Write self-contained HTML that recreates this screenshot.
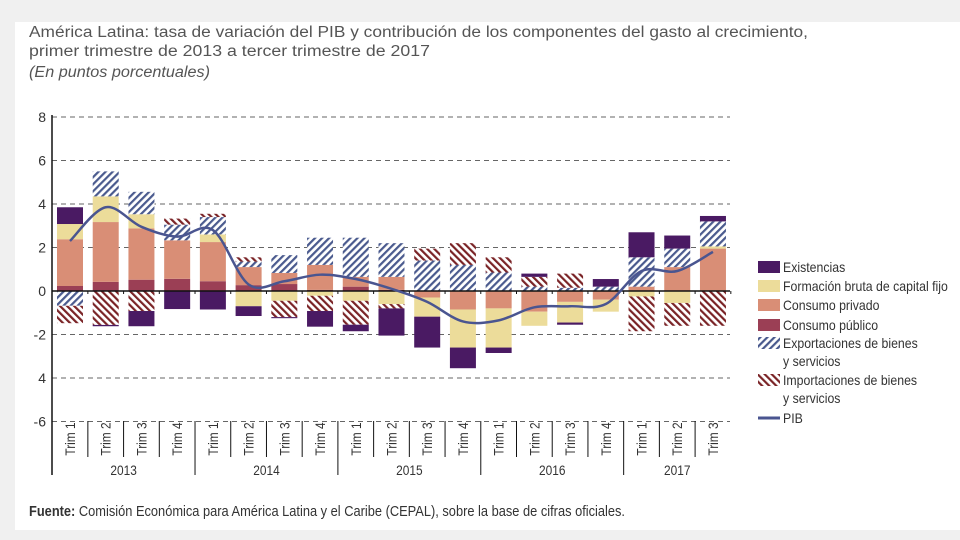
<!DOCTYPE html>
<html><head><meta charset="utf-8"><style>
body{margin:0;background:#f0f0f0;}
#wrap{position:absolute;left:0;top:0;width:960px;height:540px;background:#f0f0f0;overflow:hidden}
#panel{position:absolute;left:15px;top:22px;width:945px;height:508px;background:#fff}
svg text{font-family:"Liberation Sans",sans-serif;fill:#333}
</style></head><body>
<div id="wrap">
<div id="panel"></div>
<svg id="chart" width="960" height="540" style="position:absolute;left:0;top:0">
<defs>
<pattern id="hexp" width="5" height="5" patternUnits="userSpaceOnUse" patternTransform="rotate(45)"><rect width="5" height="5" fill="#fff"/><rect width="2.2" height="5" fill="#4a5a8e"/></pattern>
<pattern id="himp" width="5" height="5" patternUnits="userSpaceOnUse" patternTransform="rotate(-45)"><rect width="5" height="5" fill="#fff"/><rect width="2.2" height="5" fill="#7a2326"/></pattern>
</defs>
<text x="29" y="37" style="font-size:15.5px;fill:#555" textLength="779" lengthAdjust="spacingAndGlyphs">América Latina: tasa de variación del PIB y contribución de los componentes del gasto al crecimiento,</text>
<text x="29" y="56" style="font-size:15.5px;fill:#555" textLength="401" lengthAdjust="spacingAndGlyphs">primer trimestre de 2013 a tercer trimestre de 2017</text>
<text x="29" y="77" style="font-size:15.5px;fill:#555;font-style:italic" textLength="181" lengthAdjust="spacingAndGlyphs">(En puntos porcentuales)</text>
<g id="grid"></g><g id="bars"></g><g id="axes"></g><g id="line"></g><g id="legend"></g>
<text x="29" y="516" style="font-size:14.5px" textLength="596" lengthAdjust="spacingAndGlyphs"><tspan font-weight="bold">Fuente:</tspan> Comisión Económica para América Latina y el Caribe (CEPAL), sobre la base de cifras oficiales.</text>
</svg>
</div>
<script>
const quarters=["Trim 1","Trim 2","Trim 3","Trim 4","Trim 1","Trim 2","Trim 3","Trim 4","Trim 1","Trim 2","Trim 3","Trim 4","Trim 1","Trim 2","Trim 3","Trim 4","Trim 1","Trim 2","Trim 3"];
const years=["2013","2014","2015","2016","2017"];
const yTicks=[8,6,4,2,0,-2,-4,-6];
const yTickLabels=["8","6","4","2","0","-2","4","-6"];
const publico=[0.23,0.42,0.52,0.56,0.45,0.27,0.32,0.05,0.2,0.05,0,0,0,0,0,0,0,0,0];
const privado=[2.15,2.75,2.36,1.77,1.8,0.83,0.51,1.15,0.45,0.6,-0.3,-0.85,-0.8,-0.95,-0.5,-0.4,0.2,1.1,1.95];
const fbcf=[0.7,1.18,0.65,0,0.35,-0.7,-0.45,-0.22,-0.45,-0.6,-0.88,-1.75,-1.8,-0.65,-0.95,-0.55,-0.25,-0.55,0.1];
const exportaciones=[-0.68,1.15,1.03,0.72,0.8,0.25,0.82,1.25,1.8,1.55,1.4,1.2,0.85,0.2,0.15,0.2,1.35,0.85,1.15];
const importaciones=[-0.8,-1.56,-0.92,0.28,0.15,0.2,-0.75,-0.7,-1.1,-0.2,0.55,1.0,0.7,0.45,0.65,0,-1.6,-1.05,-1.6];
const existencias=[0.77,-0.06,-0.7,-0.83,-0.85,-0.45,-0.05,-0.72,-0.3,-1.25,-1.42,-0.95,-0.25,0.15,-0.1,0.35,1.15,0.6,0.25];
const pib=[2.3,3.85,2.95,2.5,2.8,0.3,0.45,0.75,0.55,0.1,-0.5,-1.4,-1.35,-0.75,-0.7,-0.6,0.92,0.92,1.8];

const NS="http://www.w3.org/2000/svg";
const X0=70,DX=35.72,BW=26,AX=52,GX2=730;
const y=v=>291-v*21.75;
const x=i=>X0+i*DX;
function mk(tag,attrs,parent){const e=document.createElementNS(NS,tag);for(const k in attrs)e.setAttribute(k,attrs[k]);parent.appendChild(e);return e;}
const grid=document.getElementById('grid'),bars=document.getElementById('bars'),axes=document.getElementById('axes'),lineG=document.getElementById('line'),leg=document.getElementById('legend');
yTicks.forEach((t,i)=>{
  if(t!==0){const g=mk('line',{x1:AX,x2:GX2,y1:y(t),y2:y(t),stroke:'#666','stroke-width':1,'stroke-dasharray':'5,4'},grid);
  
  }
  const tx=mk('text',{x:46,y:y(t)+5,'text-anchor':'end','font-size':14},axes);tx.textContent=yTickLabels[i];
  
  
});
const series=[["consumo-publico",publico,"#9b3f55"],["consumo-privado",privado,"#d98e76"],["fbcf",fbcf,"#ecdc9a"],["exportaciones",exportaciones,"url(#hexp)"],["importaciones",importaciones,"url(#himp)"],["existencias",existencias,"#4a1a63"]];
quarters.forEach((q,i)=>{
  let pos=0,neg=0;
  series.forEach(([nm,arr,col])=>{
    const v=arr[i];if(!v)return;
    let a,b;
    if(v>0){a=pos;b=pos+v;pos=b;}else{a=neg;b=neg+v;neg=b;}
    const r=mk('rect',{x:x(i)-BW/2,y:Math.min(y(a),y(b)),width:BW,height:Math.abs(y(a)-y(b)),fill:col},bars);
    
    
  });
  const tl=mk('text',{x:0,y:0,'font-size':14,'text-anchor':'middle',transform:`translate(${x(i)+5},${439}) rotate(-90) scale(0.85,1)`},axes);tl.textContent=q;
  
  
  if(i>0){const yearSep=(i%4===0);
    const s=mk('line',{x1:x(i)-DX/2,x2:x(i)-DX/2,y1:421,y2:yearSep?475:457,stroke:'#111','stroke-width':1},axes);
    
    }
  const tk=mk('line',{x1:x(i)+DX/2,x2:x(i)+DX/2,y1:291,y2:294,stroke:'#111'},axes);
  
  
});
years.forEach((yr,k)=>{
  const n=Math.min(4,quarters.length-k*4);
  const cx=(x(k*4)+x(k*4+n-1))/2;
  const t=mk('text',{x:0,y:0,'text-anchor':'middle','font-size':14,transform:`translate(${cx},475) scale(0.85,1)`},axes);t.textContent=yr;
  
  
});
const ya=mk('line',{x1:AX,x2:AX,y1:115,y2:475,stroke:'#111','stroke-width':1.5},axes);


const za=mk('line',{x1:AX,x2:GX2,y1:y(0),y2:y(0),stroke:'#111','stroke-width':1.5},axes);


const P=pib.map((v,i)=>[x(i),y(v)]);
let d=`M${P[0][0]},${P[0][1]}`;
for(let i=0;i<P.length-1;i++){
  const p0=P[Math.max(0,i-1)],p1=P[i],p2=P[i+1],p3=P[Math.min(P.length-1,i+2)];
  const c1=[p1[0]+(p2[0]-p0[0])/6,p1[1]+(p2[1]-p0[1])/6],c2=[p2[0]-(p3[0]-p1[0])/6,p2[1]-(p3[1]-p1[1])/6];
  d+=` C${c1[0]},${c1[1]} ${c2[0]},${c2[1]} ${p2[0]},${p2[1]}`;
}
const pl=mk('path',{d:d,fill:'none',stroke:'#4a5590','stroke-width':2.5},lineG);


const legItems=[["Existencias","#4a1a63",267,null],["Formación bruta de capital fijo","#ecdc9a",286,null],["Consumo privado","#d98e76",305,null],["Consumo público","#9b3f55",325,null],["Exportaciones de bienes","url(#hexp)",343,"y servicios"],["Importaciones de bienes","url(#himp)",380,"y servicios"]];
legItems.forEach(([lab,col,cy,l2])=>{
  const r=mk('rect',{x:758,y:cy-6,width:22,height:12,fill:col},leg);
  
  
  const t=mk('text',{x:0,y:0,'font-size':14,transform:`translate(783,${cy+5}) scale(0.88,1)`},leg);t.textContent=lab;
  
  
  if(l2){const t2=mk('text',{x:0,y:0,'font-size':14,transform:`translate(783,${cy+23}) scale(0.88,1)`},leg);t2.textContent=l2;
  
  }
});
const ll=mk('line',{x1:758,x2:780,y1:418,y2:418,stroke:'#4a5590','stroke-width':3},leg);


const lt=mk('text',{x:0,y:0,'font-size':14,transform:'translate(783,423) scale(0.88,1)'},leg);lt.textContent="PIB";


</script>
</body></html>
